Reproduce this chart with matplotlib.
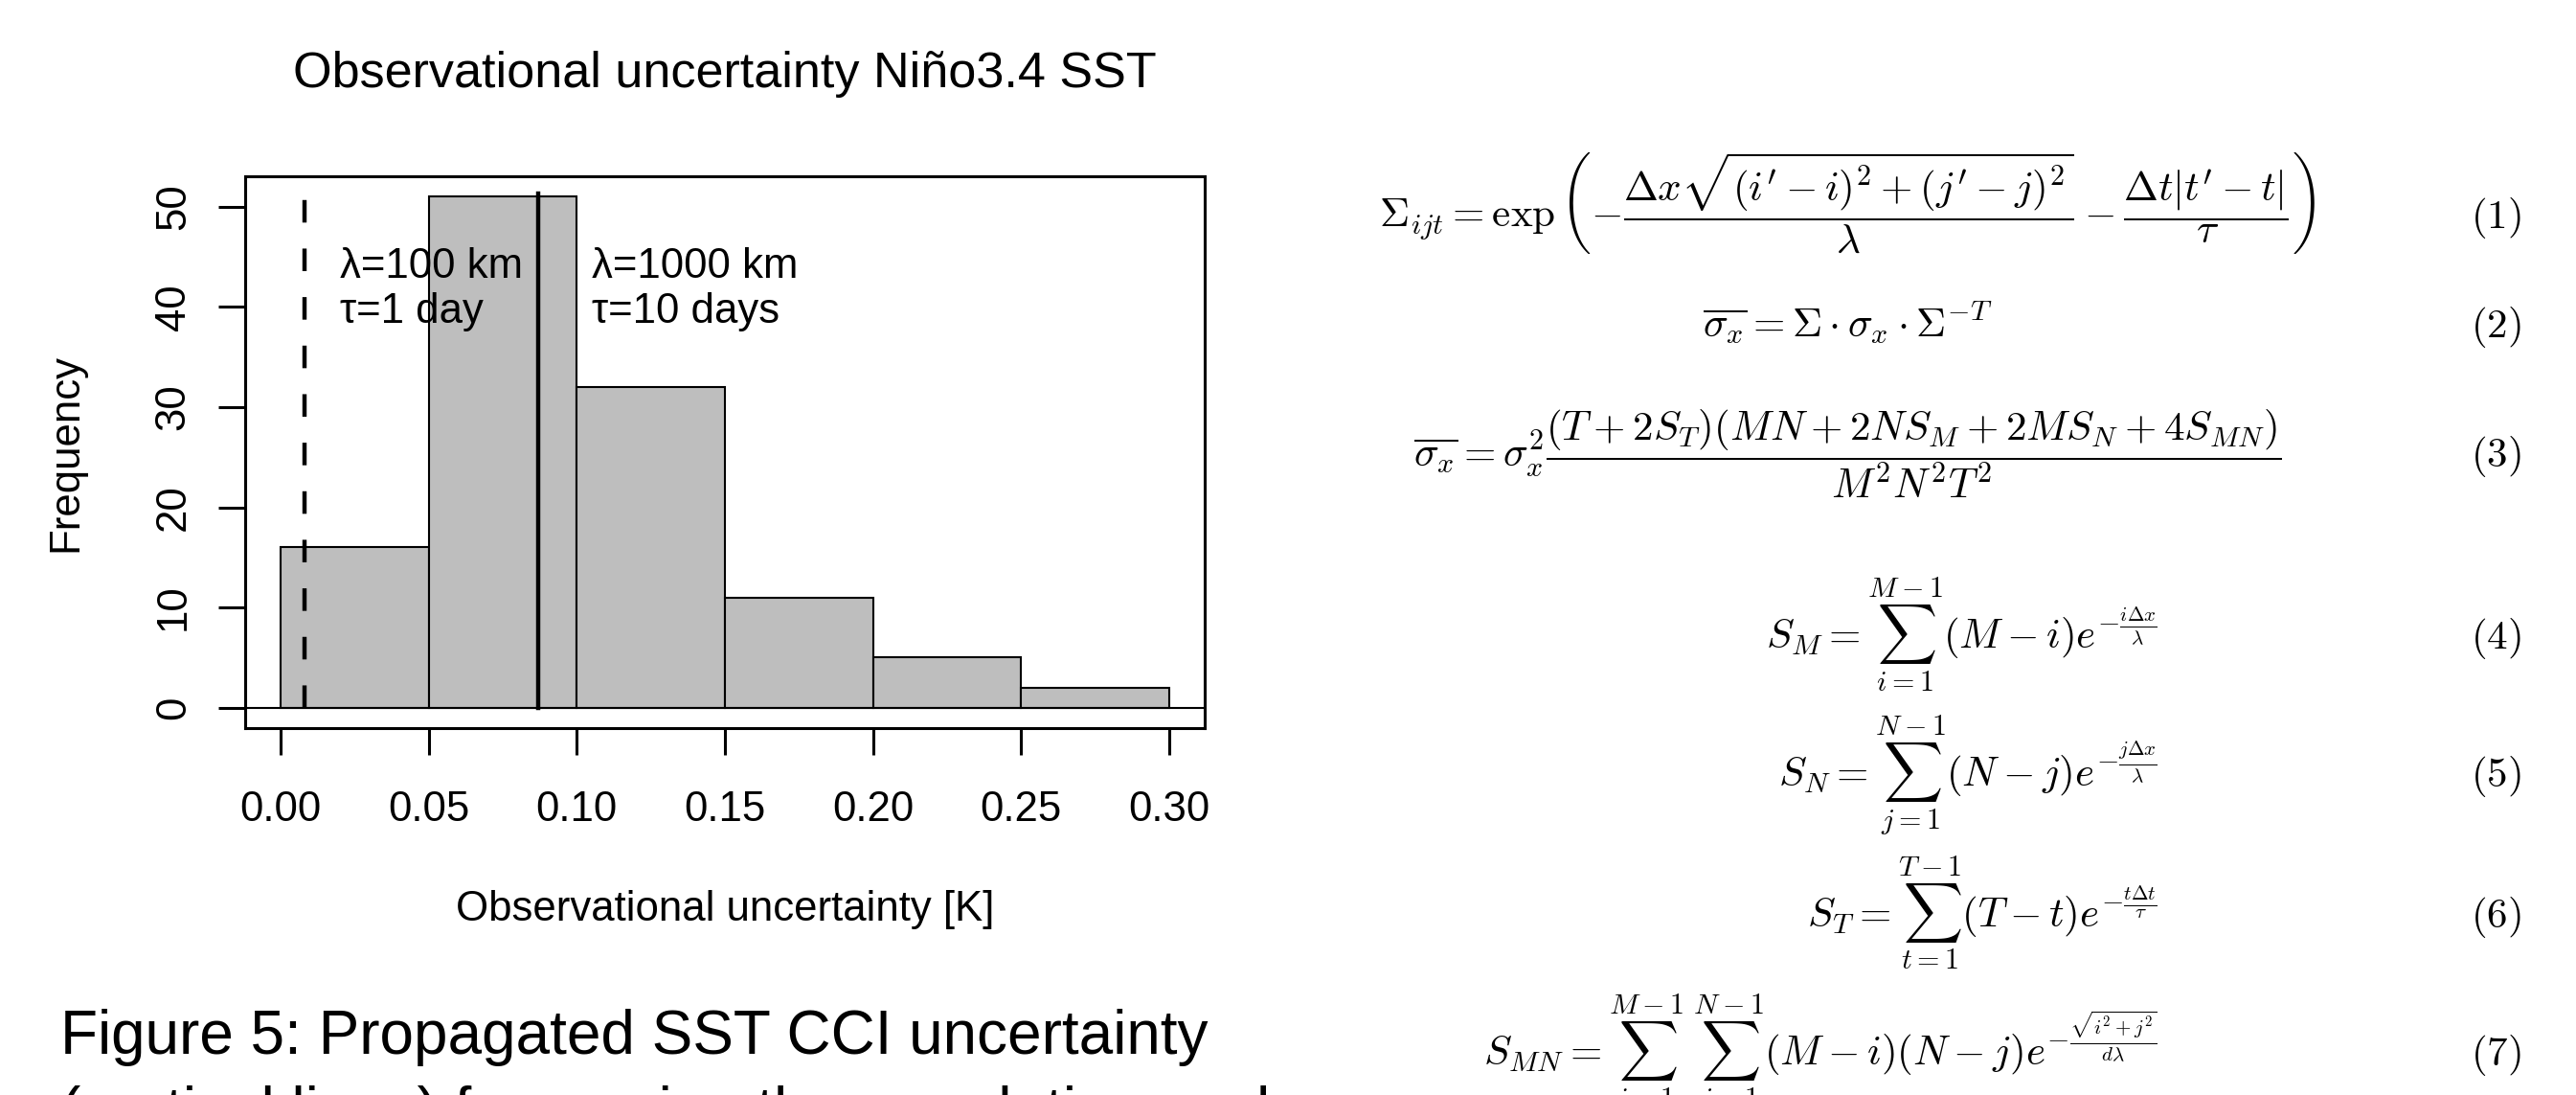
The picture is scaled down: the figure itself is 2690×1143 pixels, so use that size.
import numpy as np
import matplotlib
matplotlib.use("Agg")
import matplotlib.pyplot as plt

#%% data
bin_edges = [0.00, 0.05, 0.10, 0.15, 0.20, 0.25]
bin_width = 0.05
counts = [16, 51, 32, 11, 5, 2]
x_ticks = [0.00, 0.05, 0.10, 0.15, 0.20, 0.25, 0.30]
y_ticks = [0, 10, 20, 30, 40, 50]
short_scale = 0.008   # lambda=100 km, tau=1 day (dashed)
long_scale = 0.087    # lambda=1000 km, tau=10 days (solid)
line_top = 51

title = "Observational uncertainty Niño3.4 SST"
xlabel = "Observational uncertainty [K]"
ylabel = "Frequency"
caption = ["Figure 5: Propagated SST CCI uncertainty",
           "(vertical lines) for varying the correlation scales"]

equations = [
    r"$\Sigma_{ijt} = \exp\left(-\dfrac{\Delta x\sqrt{(i'-i)^2+(j'-j)^2}}{\lambda}"
    r" - \dfrac{\Delta t|t'-t|}{\tau}\right)$",
    r"$\overline{\sigma_x} = \Sigma\cdot\sigma_x\cdot\Sigma^{-T}$",
    r"$\overline{\sigma_x} = \sigma_x^2\dfrac{(T+2S_T)(MN+2NS_M+2MS_N+4S_{MN})}{M^2N^2T^2}$",
    r"$S_M = \sum_{i=1}^{M-1}(M-i)e^{-\frac{i\Delta x}{\lambda}}$",
    r"$S_N = \sum_{j=1}^{N-1}(N-j)e^{-\frac{j\Delta x}{\lambda}}$",
    r"$S_T = \sum_{t=1}^{T-1}(T-t)e^{-\frac{t\Delta t}{\tau}}$",
    r"$S_{MN} = \sum_{i=1}^{M-1}\;\sum_{j=1}^{N-1}(M-i)(N-j)e^{-\frac{\sqrt{i^2+j^2}}{d\lambda}}$",
]
eq_numbers = ["(1)", "(2)", "(3)", "(4)", "(5)", "(6)", "(7)"]

#%% layout in pixels of the 2690x1143 picture
W, H = 2690, 1143
plt.rcParams['font.family'] = ['Liberation Sans', 'DejaVu Sans']
plt.rcParams['mathtext.fontset'] = 'cm'


def fx(px):
    return px / W


def fy(py):
    return 1 - py / H


fig = plt.figure(figsize=(W / 100, H / 100), dpi=100)
ax_l, ax_r, ax_t, ax_b = 256, 1258, 184, 760
ax = fig.add_axes([fx(ax_l), fy(ax_b), fx(ax_r - ax_l), (ax_b - ax_t) / H])

fs = 31.5
ax.bar(bin_edges, counts, width=bin_width, align='edge', color='#BEBEBE',
       edgecolor='black', linewidth=1.5, zorder=2)
ax.axhline(0, color='black', linewidth=1.5, zorder=3)
ax.plot([short_scale, short_scale], [0, line_top], color='black', lw=3.2,
        linestyle=(0, (5.3, 6.1)), zorder=4)
ax.plot([long_scale, long_scale], [0, line_top + 0.3], color='black', lw=3.2,
        zorder=4)

ax.text(0.02, 44.0, "λ=100 km", fontsize=fs, va='center', ha='left', zorder=5)
ax.text(0.02, 39.5, "τ=1 day", fontsize=fs, va='center', ha='left', zorder=5)
ax.text(0.105, 44.0, "λ=1000 km", fontsize=fs, va='center', ha='left', zorder=5)
ax.text(0.105, 39.5, "τ=10 days", fontsize=fs, va='center', ha='left', zorder=5)

ax.set_xlim(-0.012, 0.312)
ax.set_ylim(-2.04, 53.04)
ax.set_xticks(x_ticks)
ax.set_xticklabels(["%.2f" % v for v in x_ticks])
ax.set_yticks(y_ticks)
ax.set_yticklabels([str(v) for v in y_ticks])
for s in ax.spines.values():
    s.set_linewidth(2.2)
ax.tick_params(axis='both', direction='out', length=20, width=2.2,
               labelsize=fs)
ax.tick_params(axis='x', pad=27)
ax.tick_params(axis='y', pad=19)
for lab in ax.get_yticklabels():
    lab.set_rotation(90)
    lab.set_va('center')

ax.set_title(title, fontsize=37.5, y=(ax_b - 77) / (ax_b - ax_t), pad=0,
             va='center')
ax.set_xlabel(xlabel, fontsize=fs)
ax.xaxis.set_label_coords(0.5, (ax_b - 949) / (ax_b - ax_t))
ax.xaxis.label.set_va('center')
ax.set_ylabel(ylabel, fontsize=fs)
ax.yaxis.set_label_coords((69 - ax_l) / (ax_r - ax_l), 0.5)
ax.yaxis.label.set_va('center')

# caption below the chart, second line runs off the page as in the source
fig.text(fx(63), fy(1100), caption[0], fontsize=46, ha='left', va='baseline')
fig.text(fx(63), fy(1180), caption[1], fontsize=46, ha='left', va='baseline')

# equations on the right
eq_fs = 31
eq_base = [238, 352, 487, 677, 821, 968, 1112]
for k, (eq, num, yb) in enumerate(zip(equations, eq_numbers, eq_base)):
    if k < 3:
        fig.text(fx(1929), fy(yb), eq, fontsize=eq_fs, ha='center', va='baseline')
    else:
        fig.text(fx(2253), fy(yb), eq, fontsize=eq_fs, ha='right', va='baseline')
    fig.text(fx(2633), fy(yb), r"$\mathrm{" + num + "}$", fontsize=eq_fs,
             ha='right', va='baseline')

fig.savefig("out.png", dpi=100)
